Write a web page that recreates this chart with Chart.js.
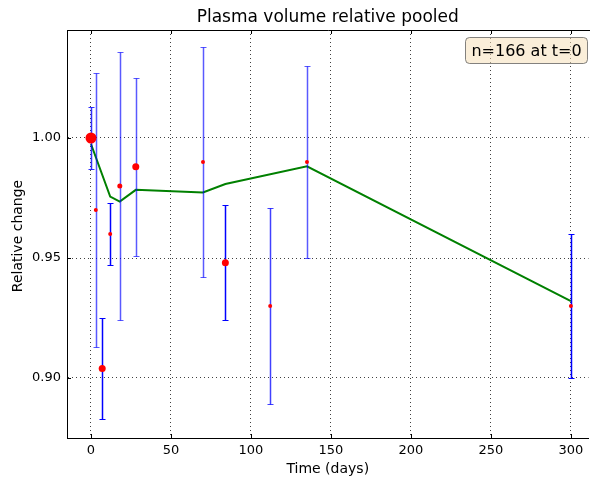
<!DOCTYPE html>
<html>
<head>
<meta charset="utf-8">
<script src="https://cdn.jsdelivr.net/npm/chart.js@4/dist/chart.umd.min.js"></script>
<style>
  html, body { margin: 0; padding: 0; background: #fff; overflow: hidden; }
  #wrap { width: 590px; height: 478px; overflow: hidden; }
  #c { display: block; }
</style>
</head>
<body>
<div id="wrap"><canvas id="c" width="594" height="478"></canvas></div>
<script>
// ---- data ----
const days     = [0, 3, 7, 12, 18, 28, 70, 84, 112, 135, 300];
const means    = [1.000, 0.970, 0.904, 0.960, 0.980, 0.988, 0.990, 0.948, 0.930, 0.990, 0.930];
const errLow   = [0.987, 0.913, 0.883, 0.947, 0.924, 0.951, 0.942, 0.924, 0.889, 0.950, 0.900];
const errHigh  = [1.013, 1.027, 0.925, 0.973, 1.036, 1.025, 1.038, 0.972, 0.971, 1.030, 0.960];
const fitDays   = [0, 12, 18, 28, 70, 84, 135, 300];
const fitValues = [0.9975, 0.9756, 0.9735, 0.9784, 0.9773, 0.9808, 0.9882, 0.932];
const xTicks = [0, 50, 100, 150, 200, 250, 300];
const yTicks = [0.90, 0.95, 1.00];
const titleText = 'Plasma volume relative pooled';
const xLabel = 'Time (days)';
const yLabel = 'Relative change';
const noteText = 'n=166 at t=0';

// ---- styles ----
const pointRadii = [5.5, 2, 3.5, 2, 2.5, 3.5, 2, 3.5, 2, 2, 2];
const barAlpha   = [0.8, 0.65, 1, 1, 0.65, 0.65, 0.65, 1, 0.75, 0.65, 1];
const FONT = "'DejaVu Sans', sans-serif";

const scatterData = days.map((d, i) => ({ x: d, y: means[i] }));
const fitData = fitDays.map((d, i) => ({ x: d, y: fitValues[i] }));

const decorPlugin = {
  id: 'decor',
  beforeDatasetDraw(chart, args) {
    if (args.index !== 1) return;
    const ctx = chart.ctx, xs = chart.scales.x, ys = chart.scales.y;
    ctx.save();
    days.forEach((d, i) => {
      const px = Math.round(xs.getPixelForValue(d)) + 0.5;
      const y1 = Math.round(ys.getPixelForValue(errLow[i])) + 0.5;
      const y2 = Math.round(ys.getPixelForValue(errHigh[i])) + 0.5;
      ctx.strokeStyle = 'rgba(0,0,255,' + barAlpha[i] + ')';
      ctx.lineWidth = 1.5;
      ctx.beginPath();
      ctx.moveTo(px, y1); ctx.lineTo(px, y2);
      ctx.stroke();
      ctx.lineWidth = 1.2;
      ctx.beginPath();
      ctx.moveTo(px - 3, y1); ctx.lineTo(px + 3, y1);
      ctx.moveTo(px - 3, y2); ctx.lineTo(px + 3, y2);
      ctx.stroke();
    });
    ctx.restore();
  },
  afterDraw(chart) {
    const ctx = chart.ctx, a = chart.chartArea;
    const xs = chart.scales.x, ys = chart.scales.y;
    ctx.save();
    ctx.strokeStyle = '#000';
    ctx.lineWidth = 1;
    ctx.beginPath();
    ctx.moveTo(a.left, a.top + 0.5); ctx.lineTo(a.right + 2, a.top + 0.5);
    ctx.stroke();
    ctx.beginPath();
    xTicks.forEach(v => {
      const px = Math.round(xs.getPixelForValue(v)) + 0.5;
      ctx.moveTo(px, a.bottom); ctx.lineTo(px, a.bottom - 4);
      ctx.moveTo(px, a.top); ctx.lineTo(px, a.top + 4);
    });
    yTicks.forEach(v => {
      const py = Math.round(ys.getPixelForValue(v)) + 0.5;
      ctx.moveTo(a.left, py); ctx.lineTo(a.left + 4, py);
    });
    ctx.stroke();
    ctx.fillStyle = '#000';
    ctx.font = '17px ' + FONT;
    ctx.textAlign = 'center';
    ctx.textBaseline = 'middle';
    ctx.fillText(titleText, (a.left + a.right) / 2, 18);
    ctx.font = '14px ' + FONT;
    ctx.fillText(xLabel, (a.left + a.right) / 2, 469);
    ctx.save();
    ctx.translate(18, (a.top + a.bottom) / 2 + 2);
    ctx.rotate(-Math.PI / 2);
    ctx.fillText(yLabel, 0, 0);
    ctx.restore();
    const bx = 465.5, by = 37.5, bw = 122, bh = 26, r = 4;
    ctx.beginPath();
    ctx.moveTo(bx + r, by);
    ctx.lineTo(bx + bw - r, by);
    ctx.arcTo(bx + bw, by, bx + bw, by + r, r);
    ctx.lineTo(bx + bw, by + bh - r);
    ctx.arcTo(bx + bw, by + bh, bx + bw - r, by + bh, r);
    ctx.lineTo(bx + r, by + bh);
    ctx.arcTo(bx, by + bh, bx, by + bh - r, r);
    ctx.lineTo(bx, by + r);
    ctx.arcTo(bx, by, bx + r, by, r);
    ctx.closePath();
    ctx.fillStyle = 'rgba(245,222,179,0.5)';
    ctx.fill();
    ctx.strokeStyle = 'rgba(80,80,80,0.7)';
    ctx.lineWidth = 1;
    ctx.stroke();
    ctx.fillStyle = '#000';
    ctx.font = '16px ' + FONT;
    ctx.textAlign = 'center';
    ctx.fillText(noteText, bx + bw / 2, by + bh / 2 + 1);
    ctx.restore();
  }
};

new Chart(document.getElementById('c'), {
  data: {
    datasets: [
      {
        type: 'line',
        data: fitData,
        borderColor: '#008000',
        borderWidth: 2,
        pointRadius: 0,
        fill: false,
        tension: 0,
        order: 2
      },
      {
        type: 'scatter',
        data: scatterData,
        backgroundColor: '#ff0000',
        borderWidth: 0,
        pointRadius: pointRadii,
        pointHoverRadius: pointRadii,
        order: 1
      }
    ]
  },
  options: {
    responsive: false,
    animation: false,
    events: [],
    layout: { padding: { top: 30, right: 0, left: 0, bottom: 0 } },
    plugins: {
      legend: { display: false },
      title: { display: false },
      tooltip: { enabled: false }
    },
    scales: {
      x: {
        type: 'linear',
        min: -15,
        max: 311,
        afterBuildTicks: s => { s.ticks = xTicks.map(v => ({ value: v })); },
        afterFit: s => { s.height = 40; s.paddingLeft = 0; s.paddingRight = 0; },
        ticks: {
          color: '#000',
          font: { family: FONT, size: 13 },
          padding: 5,
          maxRotation: 0,
          callback: v => String(v)
        },
        grid: {
          color: 'rgba(0,0,0,0.75)',
          lineWidth: 1,
          drawTicks: false
        },
        border: { display: true, color: '#000', width: 1, dash: [1, 3] }
      },
      y: {
        type: 'linear',
        min: 0.875,
        max: 1.045,
        afterBuildTicks: s => { s.ticks = yTicks.map(v => ({ value: v })); },
        afterFit: s => { s.width = 67; s.paddingTop = 0; s.paddingBottom = 0; },
        ticks: {
          color: '#000',
          font: { family: FONT, size: 13 },
          padding: 6,
          callback: v => Number(v).toFixed(2)
        },
        grid: {
          color: 'rgba(0,0,0,0.75)',
          lineWidth: 1,
          drawTicks: false
        },
        border: { display: true, color: '#000', width: 1, dash: [1, 3] }
      }
    }
  },
  plugins: [decorPlugin]
});
</script>
</body>
</html>
